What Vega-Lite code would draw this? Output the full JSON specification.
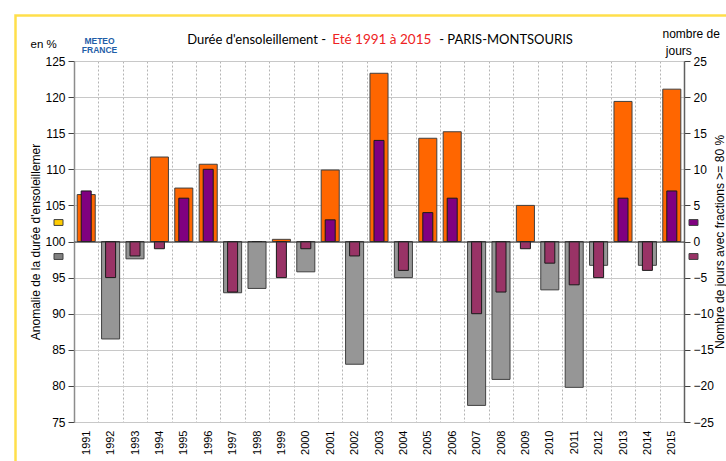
{
  "$schema": "https://vega.github.io/schema/vega-lite/v6.json",
  "width": 610,
  "height": 361,
  "autosize": {"type": "none"},
  "padding": {"left": 74, "top": 61, "right": 42, "bottom": 39},
  "background": "white",
  "config": {
    "view": {"stroke": null},
    "font": "Liberation Sans",
    "axis": {"labelFont": "Liberation Sans", "titleFont": "Liberation Sans", "titleFontWeight": "normal", "labelColor": "#000", "titleColor": "#000"}
  },
  "title": {
    "text": "Durée d'ensoleillement - \u00a0\u00a0\u00a0\u00a0\u00a0\u00a0\u00a0\u00a0\u00a0\u00a0\u00a0\u00a0\u00a0\u00a0\u00a0\u00a0\u00a0\u00a0\u00a0\u00a0\u00a0\u00a0\u00a0\u00a0\u00a0\u00a0\u00a0\u00a0\u00a0\u00a0\u00a0\u00a0 - PARIS-MONTSOURIS",
    "subtitle": "\u200b\u00a0Eté 1991 à 2015",
    "font": "Lato",
    "fontSize": 13,
    "fontWeight": "normal",
    "color": "#000",
    "subtitleFont": "Lato",
    "subtitleFontSize": 13.5,
    "subtitleColor": "#EE2222",
    "subtitlePadding": -13.5,
    "anchor": "middle",
    "offset": -33,
    "dx": 1
  },
  "data": {
    "values": [
      {"annee": "1991", "anomalie": 106.5, "jours": 7},
      {"annee": "1992", "anomalie": 86.5, "jours": -5},
      {"annee": "1993", "anomalie": 97.6, "jours": -2},
      {"annee": "1994", "anomalie": 111.7, "jours": -1},
      {"annee": "1995", "anomalie": 107.4, "jours": 6},
      {"annee": "1996", "anomalie": 110.7, "jours": 10},
      {"annee": "1997", "anomalie": 92.9, "jours": -7},
      {"annee": "1998", "anomalie": 93.5, "jours": 0},
      {"annee": "1999", "anomalie": 100.3, "jours": -5},
      {"annee": "2000", "anomalie": 95.8, "jours": -1},
      {"annee": "2001", "anomalie": 109.9, "jours": 3},
      {"annee": "2002", "anomalie": 83.0, "jours": -2},
      {"annee": "2003", "anomalie": 123.3, "jours": 14},
      {"annee": "2004", "anomalie": 95.0, "jours": -4},
      {"annee": "2005", "anomalie": 114.3, "jours": 4},
      {"annee": "2006", "anomalie": 115.2, "jours": 6},
      {"annee": "2007", "anomalie": 77.3, "jours": -10},
      {"annee": "2008", "anomalie": 80.9, "jours": -7},
      {"annee": "2009", "anomalie": 105.0, "jours": -1},
      {"annee": "2010", "anomalie": 93.3, "jours": -3},
      {"annee": "2011", "anomalie": 79.8, "jours": -6},
      {"annee": "2012", "anomalie": 96.7, "jours": -5},
      {"annee": "2013", "anomalie": 119.4, "jours": 6},
      {"annee": "2014", "anomalie": 96.7, "jours": -4},
      {"annee": "2015", "anomalie": 121.1, "jours": 7}
    ]
  },
  "resolve": {"scale": {"y": "independent", "color": "independent"}, "axis": {"x": "independent"}},
  "layer": [
    {
      "transform": [{"filter": "false"}],
      "mark": {"type": "point", "filled": false},
      "encoding": {
        "color": {
          "datum": "cadre", "type": "nominal",
          "scale": {"range": ["#FFD200"]},
          "legend": {"orient": "none", "legendX": -60, "legendY": -47, "title": null, "padding": 0, "symbolType": "M-1,-1H1V0.26H-1Z", "symbolSize": 506944, "symbolStrokeWidth": 2.5, "labelExpr": "''", "labelFontSize": 1}
        }
      }
    },
    {
      "transform": [{"calculate": "datum.anomalie >= 100 ? 'excédent' : 'déficit'", "as": "signe"}],
      "mark": {"type": "bar", "width": {"band": 0.74}, "stroke": "#404040", "strokeWidth": 1},
      "encoding": {
        "x": {
          "field": "annee", "type": "ordinal",
          "scale": {"paddingInner": 0, "paddingOuter": 0},
          "axis": {"orient": "bottom", "title": null, "labelAngle": 270, "labelFontSize": 11, "labelPadding": 8, "ticks": false, "domain": false, "grid": true, "gridDash": [2, 2], "gridColor": "#b4b4b4", "tickBand": "extent"}
        },
        "y": {
          "field": "anomalie", "type": "quantitative",
          "scale": {"domain": [75, 125], "nice": false, "zero": false},
          "axis": {"orient": "left", "values": [75, 80, 85, 90, 95, 100, 105, 110, 115, 120, 125], "title": "Anomalie de la durée d'ensoleillemer", "titleFontSize": 12, "titleX": -39, "titleY": 180.5, "titleAngle": 270, "titleAlign": "center", "titleBaseline": "middle", "labelFontSize": 12, "labelPadding": 3, "tickSize": 6, "tickColor": "#404040", "domainColor": "#8c8c8c", "domainWidth": 1.5, "grid": true, "gridColor": "#c8c8c8", "gridWidth": 1.2}
        },
        "y2": {"datum": 100},
        "color": {
          "field": "signe", "type": "nominal",
          "scale": {"domain": ["excédent", "déficit"], "range": ["#FF6600", "#969696"]},
          "legend": null
        }
      }
    },
    {
      "transform": [{"calculate": "datum.anomalie >= 100 ? 'excédent' : 'déficit'", "as": "signe"}],
      "mark": {"type": "text", "text": ""},
      "encoding": {
        "color": {
          "field": "signe", "type": "nominal",
          "scale": {"domain": ["excédent", "déficit"], "range": ["#FFCC00", "#808080"]},
          "legend": {"orient": "none", "legendX": -20.5, "legendY": 156.5, "title": null, "padding": 0, "symbolType": "M-1,-0.65H1V0.65H-1Z", "symbolSize": 81, "symbolStrokeColor": "#404040", "symbolStrokeWidth": 1, "labelExpr": "''", "labelFontSize": 1, "rowPadding": 24}
        }
      }
    },
    {
      "transform": [{"calculate": "datum.jours >= 0 ? 'plus' : 'moins'", "as": "signe_jours"}],
      "mark": {"type": "bar", "width": {"band": 0.41}, "stroke": "#1a1a1a", "strokeWidth": 1},
      "encoding": {
        "x": {
          "field": "annee", "type": "ordinal",
          "axis": {"orient": "top", "domain": false, "ticks": false, "labels": false, "grid": false, "title": ["nombre de", "\u200b\u00a0jours"], "titleX": 588, "titleY": -24, "titleAlign": "left", "titleBaseline": "alphabetic", "titleAngle": 0, "titleFontSize": 12, "titleLineHeight": 17}
        },
        "y": {
          "field": "jours", "type": "quantitative",
          "scale": {"domain": [-25, 25], "nice": false},
          "axis": {"orient": "right", "values": [-25, -20, -15, -10, -5, 0, 5, 10, 15, 20, 25], "title": "Nombre de jours avec fractions >= 80 %", "titleX": 35, "titleY": 180.5, "titleAngle": 270, "titleAlign": "center", "titleBaseline": "middle", "titleFontSize": 12, "labelFontSize": 12, "labelPadding": 3, "tickSize": 6, "tickColor": "#404040", "domainColor": "#606060", "domainWidth": 1.5, "grid": false}
        },
        "y2": {"datum": 0},
        "color": {
          "field": "signe_jours", "type": "nominal",
          "scale": {"domain": ["plus", "moins"], "range": ["#800080", "#993366"]},
          "legend": {"orient": "none", "legendX": 614.5, "legendY": 156.5, "title": null, "padding": 0, "symbolType": "M-1,-0.65H1V0.65H-1Z", "symbolSize": 81, "symbolStrokeColor": "#404040", "symbolStrokeWidth": 1, "labelExpr": "''", "labelFontSize": 1, "rowPadding": 24}
        }
      }
    },
    {
      "mark": {"type": "text", "text": ""},
      "encoding": {
        "x": {
          "field": "annee", "type": "ordinal",
          "axis": {"orient": "top", "offset": -180.5, "zindex": 1, "domain": true, "domainColor": "#303030", "domainWidth": 1, "ticks": false, "labels": false, "grid": false, "title": "en %", "titleX": -44, "titleY": -194.5, "titleAlign": "left", "titleBaseline": "alphabetic", "titleAngle": 0, "titleFontSize": 11.5}
        }
      }
    },
    {
      "mark": {"type": "text", "text": ""},
      "encoding": {
        "x": {
          "field": "annee", "type": "ordinal",
          "axis": {"orient": "top", "domain": false, "ticks": false, "labels": false, "grid": false, "title": ["METEO", "FRANCE"], "titleX": 25, "titleY": -18, "titleAlign": "center", "titleBaseline": "alphabetic", "titleAngle": 0, "titleFont": "Liberation Sans", "titleFontSize": 8.5, "titleFontWeight": "bold", "titleColor": "#1F5EA8", "titleLineHeight": 9}
        }
      }
    }
  ]
}
